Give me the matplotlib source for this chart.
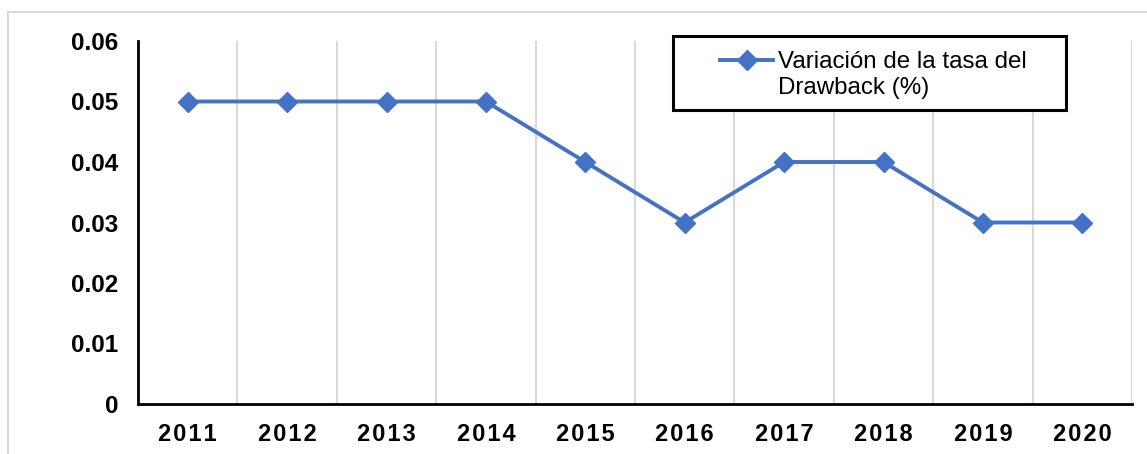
import matplotlib.pyplot as plt
from matplotlib.patches import Rectangle
from matplotlib.lines import Line2D

years = ["2011", "2012", "2013", "2014", "2015", "2016", "2017", "2018", "2019", "2020"]
tasa = [0.05, 0.05, 0.05, 0.05, 0.04, 0.03, 0.04, 0.04, 0.03, 0.03]
y_ticks = [0, 0.01, 0.02, 0.03, 0.04, 0.05, 0.06]
y_labels = ["0", "0.01", "0.02", "0.03", "0.04", "0.05", "0.06"]
serie = "Variación de la tasa del\nDrawback (%)"

plt.rcParams['font.family'] = ['Liberation Sans', 'DejaVu Sans']
blue = '#4472C4'
W, H = 1147, 454

fig = plt.figure(figsize=(W / 100, H / 100), dpi=100)
ax = fig.add_axes([138 / W, 1 - 404 / H, (1132 - 138) / W, (404 - 41) / H])

x = list(range(len(years)))
ax.plot(x, tasa, color=blue, lw=2.8, marker='D', markersize=10.5, zorder=3)

ax.set_xlim(-0.5, len(years) - 0.5)
ax.set_ylim(0, 0.06)
ax.set_yticks(y_ticks)
ax.set_yticklabels(y_labels, fontsize=17.5, fontweight='bold')
ax.set_xticks(x)
ax.set_xticklabels(["\u200a".join(y) for y in years], fontsize=17, fontweight='bold')
ax.tick_params(axis='y', length=0, pad=14)
ax.tick_params(axis='x', length=0, pad=14)

# vertical gridlines on category boundaries
for b in range(1, len(years) + 1):
    ax.axvline(b - 0.5, color='#D9D9D9', lw=1.5, zorder=1)

for s in ['top', 'right']:
    ax.spines[s].set_visible(False)
for s in ['left', 'bottom']:
    ax.spines[s].set_linewidth(2)
    ax.spines[s].set_color('black')

# outer chart border
fig.patches.append(Rectangle((8 / W, -0.1), 1.2, 1 - 12 / H + 0.1, transform=fig.transFigure,
                             fill=False, edgecolor='#D9D9D9', lw=1.5))

# legend box
fig.patches.append(Rectangle((673 / W, 1 - 110 / H), (1066 - 673) / W, (110 - 36) / H,
                             transform=fig.transFigure, facecolor='white', edgecolor='black', lw=2.2, zorder=5))
fig.lines.append(Line2D([720 / W, 773 / W], [1 - 60 / H, 1 - 60 / H], transform=fig.transFigure,
                        color=blue, lw=2.8, zorder=6))
fig.lines.append(Line2D([746.5 / W], [1 - 60 / H], transform=fig.transFigure,
                        color=blue, marker='D', markersize=10.5, zorder=6))
fig.text(778 / W, 1 - 50.5 / H, serie, fontsize=17.4, va='top', ha='left', linespacing=1.28, zorder=7)

fig.savefig('out.png', dpi=100)
